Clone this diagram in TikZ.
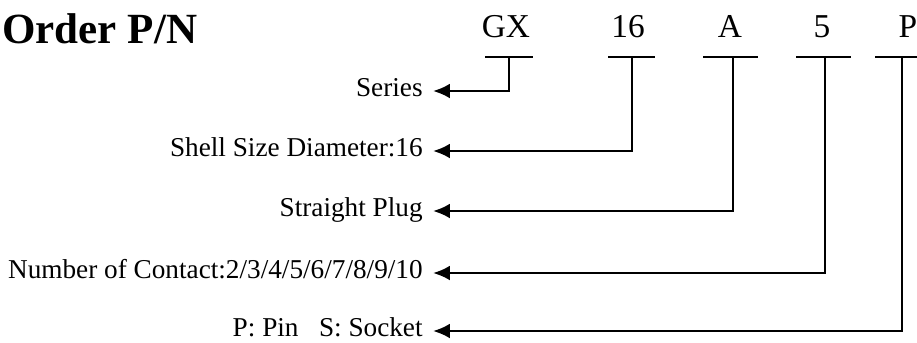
\documentclass[tikz,border=0pt]{standalone}
\usepackage{fontspec}
\setmainfont{Liberation Serif}
\usetikzlibrary{arrows.meta}

\begin{document}
\begin{tikzpicture}[x=0.02cm,y=-0.02cm,
  every node/.style={inner sep=0pt},
  title/.style={anchor=base west,font=\fontsize{24.5}{28}\selectfont\bfseries},
  code/.style={anchor=base,font=\fontsize{19}{22}\selectfont},
  lbl/.style={anchor=east,inner xsep=0.2cm,text height=0.66em,text depth=0pt,font=\fontsize{15.5}{18}\selectfont},
  tick/.style={line width=1.5pt},
  link/.style={-{Latex[length=0.34cm,width=0.3cm]},line width=1.5pt}]
\useasboundingbox (0,0) rectangle (917,342);

\node[title] (order) at (2,43) {Order P/N};

% code letters and their ticks
\node[code] (gx) at (506,37) {GX}; \node[code] (size) at (628,37) {16}; \node[code] (plug) at (730,37) {A}; \node[code] (pins) at (822,37) {5}; \node[code] (kind) at (908,37) {P};
\coordinate (gxtick) at (509,57); \coordinate (sizetick) at (632,57); \coordinate (plugtick) at (733,57); \coordinate (pinstick) at (825,57); \coordinate (kindtick) at (902,57);
\draw[tick] (485,57) -- (533,57) (608,57) -- (655,57) (703,57) -- (758,57) (796,57) -- (851,57) (875,57) -- (930,57);

% meanings
\node[lbl] (series) at (433,91) {Series};
\node[lbl] (shell) at (433,151) {Shell Size Diameter:16};
\node[lbl] (straight) at (433,211) {Straight Plug};
\node[lbl] (contact) at (433,273) {Number of Contact:2/3/4/5/6/7/8/9/10};
\node[lbl] (pinsock) at (433,331) {P: Pin\enspace\ S: Socket};

\draw[link] (gxtick) |- (series.east); \draw[link] (sizetick) |- (shell.east); \draw[link] (plugtick) |- (straight.east);
\draw[link] (pinstick) |- (contact.east); \draw[link] (kindtick) |- (pinsock.east);
\end{tikzpicture}
\end{document}
